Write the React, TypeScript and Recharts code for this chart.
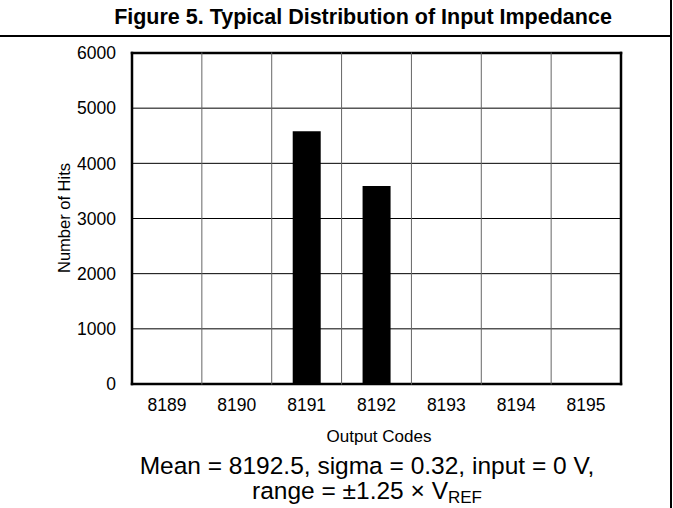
import { BarChart, Bar, XAxis, YAxis, CartesianGrid } from "recharts";

const codes = ["8189", "8190", "8191", "8192", "8193", "8194", "8195"];
const hits = [0, 0, 4580, 3590, 0, 0, 0];
const yTicks = [0, 1000, 2000, 3000, 4000, 5000, 6000];

const data = codes.map((code, i) => ({ code, hits: hits[i] }));

const font = "'Liberation Sans', Arial, Helvetica, sans-serif";

// bin boundaries: one gridline between every pair of codes, plus the two plot edges
const binLines = ({ offset }: any) =>
  Array.from({ length: codes.length + 1 }, (_, i) => offset.left + (offset.width * i) / codes.length);

const gridLine = (color: string, edgeCount: number) => (p: any) => {
  const edge = p.index === 0 || p.index === edgeCount - 1;
  return (
    <line
      key={p.key}
      x1={p.x1}
      y1={p.y1}
      x2={p.x2}
      y2={p.y2}
      stroke={edge ? "#000" : color}
      strokeWidth={edge ? 2.5 : 1}
      strokeLinecap="square"
    />
  );
};

export default function App() {
  return (
    <div
      style={{
        position: "fixed",
        left: 0,
        top: 0,
        width: 673,
        height: 508,
        background: "#fff",
        fontFamily: font,
        color: "#000",
        overflow: "hidden",
      }}
    >
      {/* title block */}
      <div
        style={{
          position: "absolute",
          left: 0,
          top: 5,
          width: 726,
          textAlign: "center",
          fontSize: 21.5,
          fontWeight: "bold",
          lineHeight: "24px",
        }}
      >
        Figure 5. Typical Distribution of Input Impedance
      </div>
      <div style={{ position: "absolute", left: 0, top: 35, width: 672, height: 1.5, background: "#000" }} />
      <div style={{ position: "absolute", left: 670, top: 0, width: 1.5, height: 508, background: "#000" }} />

      <div style={{ position: "absolute", left: 0, top: 0 }}>
        <BarChart
          width={673}
          height={508}
          data={data}
          margin={{ top: 53, right: 52, left: 0, bottom: 0 }}
        >
          <CartesianGrid
            verticalCoordinatesGenerator={binLines}
            horizontal={gridLine("#000", yTicks.length)}
            vertical={gridLine("#666", codes.length + 1)}
          />
          <XAxis
            dataKey="code"
            height={124}
            tickLine={false}
            axisLine={false}
            tickSize={0}
            tickMargin={15}
            tick={{ fill: "#000", fontSize: 17.5, fontFamily: font }}
          />
          <YAxis
            width={132}
            domain={[0, 6000]}
            ticks={yTicks}
            interval={0}
            tickLine={false}
            axisLine={false}
            tickSize={0}
            tickMargin={16}
            tick={{ fill: "#000", fontSize: 17.5, fontFamily: font }}
          />
          <Bar dataKey="hits" fill="#000" barSize={28} isAnimationActive={false} />
        </BarChart>
      </div>

      {/* axis titles */}
      <div
        style={{
          position: "absolute",
          left: 64,
          top: 218,
          transform: "translate(-50%, -50%) rotate(-90deg)",
          fontSize: 16.5,
          whiteSpace: "nowrap",
        }}
      >
        Number of Hits
      </div>
      <div
        style={{
          position: "absolute",
          left: 0,
          top: 427,
          width: 758,
          textAlign: "center",
          fontSize: 17,
          lineHeight: "20px",
        }}
      >
        Output Codes
      </div>

      {/* footnote */}
      <div
        style={{
          position: "absolute",
          left: 0,
          top: 453,
          width: 734,
          textAlign: "center",
          fontSize: 24.5,
          lineHeight: "25px",
        }}
      >
        Mean = 8192.5, sigma = 0.32, input = 0 V,
        <br />
        range = ±1.25 × V<sub style={{ fontSize: 17, verticalAlign: "-4px", lineHeight: 0 }}>REF</sub>
      </div>
    </div>
  );
}
